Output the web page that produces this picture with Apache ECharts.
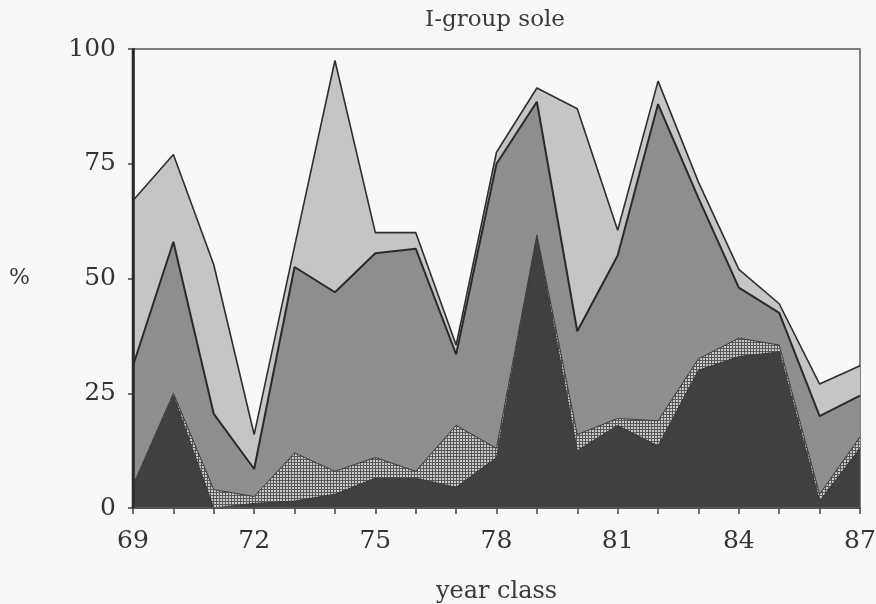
<!DOCTYPE html>
<html>
<head>
<meta charset="utf-8">
<title>I-group sole</title>
<script src="https://cdn.jsdelivr.net/npm/echarts@6/dist/echarts.min.js"></script>
<style>
  html, body { margin: 0; padding: 0; background: #f9f7f9; }
  #chart { width: 876px; height: 604px; }
</style>
</head>
<body>
<div id="chart"></div>
<script>
// year classes along the x axis
const years = [69, 70, 71, 72, 73, 74, 75, 76, 77, 78, 79, 80, 81, 82, 83, 84, 85, 86, 87];

// upper edge of each band, cumulative % (bottom band first)
const darkTop   = [4.5, 24.5, 0, 1, 1.5, 3, 6.5, 6.5, 4.5, 11, 59, 12.5, 18, 13.5, 30, 33, 34, 1.5, 13];
const dottedTop = [5, 25, 4, 2.5, 12, 8, 11, 8, 18, 13, 59.5, 16, 19.5, 19, 32.5, 37, 35.5, 3, 15.5];
const mediumTop = [31, 58, 20.5, 8.5, 52.5, 47, 55.5, 56.5, 33.5, 75, 88.5, 38.5, 55, 88, 67.5, 48, 42.5, 20, 24.5];
const lightTop  = [67, 77, 53, 16, 57, 97.5, 60, 60, 35.5, 77.5, 91.5, 87, 60.5, 93, 71, 52, 44.5, 27, 31];

const labelYears = [69, 72, 75, 78, 81, 84, 87];

const serif = '"DejaVu Serif", "Liberation Serif", serif';

// small crosshatch tile for the stippled band
const makeHatch = () => {
  const c = document.createElement('canvas');
  c.width = 3;
  c.height = 3;
  const ctx = c.getContext('2d');
  ctx.fillStyle = '#585858';
  ctx.fillRect(0, 0, 3, 3);
  ctx.fillStyle = '#c9c9c9';
  ctx.fillRect(1, 1, 2, 2);
  return c;
};

const pairs = (vals) => years.map((y, i) => [y, vals[i]]);

const band = (name, vals, fill, lineColor, lineWidth) => ({
  name,
  type: 'line',
  data: pairs(vals),
  symbol: 'none',
  lineStyle: { color: lineColor, width: lineWidth },
  areaStyle: { color: fill, opacity: 1, origin: 'start' },
  emphasis: { disabled: true },
});

const chart = echarts.init(document.getElementById('chart'));

chart.setOption({
  animation: false,
  backgroundColor: '#f9f7f9',
  title: {
    text: 'I-group sole',
    left: 490,
    top: 4,
    textAlign: 'center',
    textStyle: { fontFamily: serif, fontSize: 23, fontWeight: 'normal', color: '#3a3a3a' },
  },
  grid: {
    left: 133, right: 16, top: 49, bottom: 96,
    outerBoundsMode: 'none',
    show: true, borderColor: '#5a5a5a', borderWidth: 1.5, backgroundColor: 'transparent',
  },
  xAxis: {
    type: 'value',
    z: 10,
    min: 69,
    max: 87,
    interval: 1,
    name: 'year class',
    nameLocation: 'middle',
    nameGap: 72,
    nameTextStyle: { fontFamily: serif, fontSize: 24, color: '#3a3a3a' },
    axisLine: { lineStyle: { color: '#555', width: 2 } },
    axisTick: { show: true, length: 6, lineStyle: { color: '#444', width: 1.5 } },
    axisLabel: {
      margin: 21,
      fontFamily: serif,
      fontSize: 25,
      color: '#333',
      formatter: (v) => (labelYears.includes(v) ? String(v) : ''),
    },
    splitLine: { show: false },
  },
  yAxis: {
    type: 'value',
    z: 10,
    min: 0,
    max: 100,
    interval: 25,
    name: '%',
    nameLocation: 'middle',
    nameRotate: 0,
    nameGap: 103,
    nameTextStyle: { fontFamily: serif, fontSize: 22, color: '#3a3a3a' },
    axisLine: { show: true, lineStyle: { color: '#2a2a2a', width: 2.5 } },
    axisTick: { show: true, length: 5, lineStyle: { color: '#444', width: 1.5 } },
    axisLabel: { margin: 17, fontFamily: serif, fontSize: 25, color: '#333' },
    splitLine: { show: false },
  },
  series: [
    band('light', lightTop, '#c6c5c6', '#2e2e2e', 1.6),
    band('medium', mediumTop, '#8f8e8f', '#2a2a2a', 2),
    band('stippled', dottedTop, { image: makeHatch(), repeat: 'repeat' }, '#3c3c3c', 1),
    band('dark', darkTop, '#404040', '#3a3a3a', 1),
    {
      // left frame edge, redrawn over the filled bands
      name: 'frame',
      type: 'line',
      z: 20,
      data: [[years[0], 0], [years[0], 100]],
      symbol: 'none',
      clip: false,
      lineStyle: { color: '#2a2a2a', width: 2.5 },
      emphasis: { disabled: true },
    },
  ],
});
</script>
</body>
</html>
